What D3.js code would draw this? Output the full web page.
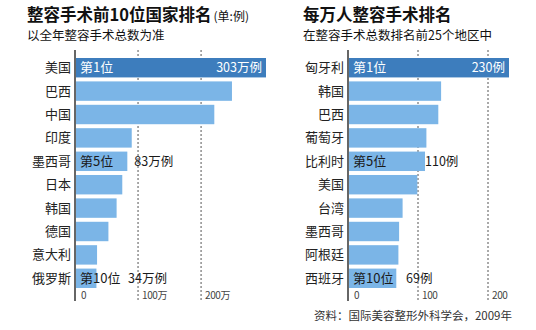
<!DOCTYPE html>
<html lang="zh">
<head>
<meta charset="UTF-8">
<title>整容手术排名</title>
<script src="https://d3js.org/d3.v7.min.js"></script>
<style>
  body { margin: 0; background: #fff; }
  text { font-family: "Noto Sans CJK SC", sans-serif; }
</style>
</head>
<body>
<svg width="536" height="330"></svg>
<script>
// 左: 整容手术总数 (万例)
const leftCats = ["美国", "巴西", "中国", "印度", "墨西哥", "日本", "韩国", "德国", "意大利", "俄罗斯"];
const leftValues = [303, 249, 221, 90, 83, 75, 66, 53, 35, 34];
const leftTicks = [0, 100, 200];
const leftTickLabels = ["0", "100万", "200万"];

// 右: 每万人整容手术 (例)
const rightCats = ["匈牙利", "韩国", "巴西", "葡萄牙", "比利时", "美国", "台湾", "墨西哥", "阿根廷", "西班牙"];
const rightValues = [230, 133, 129, 112, 110, 99, 78, 73, 72, 69];
const rightTicks = [0, 100, 200];
const rightTickLabels = ["0", "100", "200"];

// 标注的名次
const marked = [0, 4, 9];

const svg = d3.select("svg");

function panel(cfg) {
  const g = svg.append("g");
  const x = d3.scaleLinear().domain([0, cfg.max]).range([cfg.x0, cfg.x1]);
  const y = d3.scaleBand().domain(cfg.cats).range([58, 288]).paddingInner(0.17);

  // 标题
  const t = g.append("text").attr("x", cfg.tx).attr("y", 21)
    .attr("font-size", 16.5).attr("font-weight", "bold").attr("fill", "#111");
  t.append("tspan").text(cfg.title);
  if (cfg.unit) t.append("tspan").attr("font-size", 12).attr("font-weight", "normal").attr("dx", 2).text(cfg.unit);
  g.append("text").attr("x", cfg.tx).attr("y", 40).attr("font-size", 12.5).attr("fill", "#111").text(cfg.sub);

  // 网格线
  g.selectAll(".grid").data(cfg.ticks.slice(1)).join("line")
    .attr("x1", d => x(d)).attr("x2", d => x(d))
    .attr("y1", 50).attr("y2", 301)
    .attr("stroke", "#555").attr("stroke-width", 1).attr("stroke-dasharray", "2,2");

  // 条形
  g.selectAll(".bar").data(cfg.values).join("rect")
    .attr("x", cfg.x0 + 1)
    .attr("y", (d, i) => y(cfg.cats[i]))
    .attr("width", d => x(d) - cfg.x0 - 1)
    .attr("height", y.bandwidth())
    .attr("fill", (d, i) => i === 0 ? "#3d7dbd" : "#7bb5e7");

  // 轴线
  g.append("line").attr("x1", cfg.x0).attr("x2", cfg.x0).attr("y1", 50).attr("y2", 301)
    .attr("stroke", "#333").attr("stroke-width", 1.5);

  // 刻度标签
  g.selectAll(".tick").data(cfg.ticks).join("text")
    .attr("x", (d, i) => x(d) + (i === 0 ? 6 : 4)).attr("y", 299)
    .attr("font-size", 10).attr("fill", "#444").attr("letter-spacing", -0.4)
    .text((d, i) => cfg.tickLabels[i]);

  // 类别标签
  g.selectAll(".cat").data(cfg.cats).join("text")
    .attr("x", cfg.x0 - 4).attr("y", d => y(d) + y.bandwidth() / 2 + 4.5)
    .attr("text-anchor", "end").attr("font-size", 13).attr("fill", "#222")
    .text(d => d);

  // 名次与数值
  marked.forEach(i => {
    const yc = y(cfg.cats[i]) + y.bandwidth() / 2 + 4.5;
    const first = i === 0;
    g.append("text").attr("x", cfg.x0 + 5).attr("y", yc)
      .attr("font-size", 13).attr("fill", first ? "#fff" : "#1a1a1a")
      .text("第" + (i + 1) + "位");
    const lbl = cfg.values[i] + cfg.suffix;
    if (first) {
      g.append("text").attr("x", x(cfg.values[i]) - 4).attr("y", yc)
        .attr("text-anchor", "end").attr("font-size", 12.5).attr("fill", "#fff").text(lbl);
    } else {
      const lx = Math.max(x(cfg.values[i]) + cfg.gap, cfg.x0 + cfg.minOff);
      g.append("text").attr("x", lx).attr("y", yc)
        .attr("font-size", 12.5).attr("fill", "#1a1a1a").text(lbl);
    }
  });
}

panel({
  cats: leftCats, values: leftValues, max: 303, x0: 75, x1: 266,
  ticks: leftTicks, tickLabels: leftTickLabels,
  title: "整容手术前10位国家排名", unit: "(单:例)", sub: "以全年整容手术总数为准",
  tx: 27, suffix: "万例", gap: 7, minOff: 53
});

panel({
  cats: rightCats, values: rightValues, max: 230, x0: 348, x1: 509,
  ticks: rightTicks, tickLabels: rightTickLabels,
  title: "每万人整容手术排名", unit: null, sub: "在整容手术总数排名前25个地区中",
  tx: 303, suffix: "例", gap: 0, minOff: 58
});

svg.append("text").attr("x", 512).attr("y", 320).attr("text-anchor", "end")
  .attr("font-size", 11.5).attr("fill", "#333")
  .text("资料：国际美容整形外科学会，2009年");
</script>
</body>
</html>
